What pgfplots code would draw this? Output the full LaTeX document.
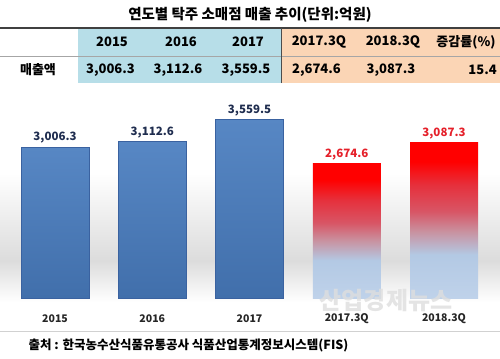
\documentclass[border=0pt]{standalone}
\usepackage{fontspec}
\setmainfont{Noto Sans CJK KR}
\usepackage{pgfplots}
\pgfplotsset{compat=1.18}
\definecolor{cyancell}{HTML}{B7DEE8}
\definecolor{orangecell}{HTML}{FBD5B5}
\definecolor{bartop}{HTML}{5787C4}
\definecolor{barbot}{HTML}{416FAB}
\definecolor{baredge}{HTML}{3A62A0}
\definecolor{navy}{HTML}{1F2D4F}
\definecolor{redlab}{HTML}{E5202A}
\definecolor{lb}{HTML}{B3C9E4}
\definecolor{lbb}{HTML}{BFD2EA}
\definecolor{mauve}{HTML}{C9919F}
\definecolor{midred}{HTML}{D85565}
\definecolor{red2}{HTML}{E6303C}
\definecolor{bgray}{HTML}{DCDCDC}
\pgfdeclareverticalshading{redblue}{100bp}{color(0bp)=(lbb); color(25bp)=(lbb); color(39bp)=(lb); color(46.5bp)=(mauve); color(53bp)=(midred); color(61.5bp)=(red2); color(69bp)=(red); color(100bp)=(red)}
\pgfdeclareverticalshading{bgshade}{100bp}{color(0bp)=(white); color(30bp)=(white); color(39bp)=(bgray); color(58bp)=(white); color(100bp)=(white)}
\begin{document}
\begin{tikzpicture}[x=1bp,y=1bp]
\path[use as bounding box,fill=white] (0,0) rectangle (500,358);
% title
\node[font=\bfseries\fontsize{14.5bp}{16bp}\selectfont] at (250,343) {연도별 탁주 소매점 매출 추이(단위:억원)};
% table
\fill[cyancell] (78,275) rectangle (281.5,330);
\fill[orangecell] (281.5,275) rectangle (500,330);
\draw[black!75,line width=1.2bp] (0,330) -- (500,330);
\draw[black!35,line width=0.6bp] (0,302) -- (500,302);
\draw[black!70,line width=1bp] (281.5,275) -- (281.5,330);
\begin{scope}[every node/.style={font=\bfseries\fontsize{13bp}{15bp}\selectfont,inner sep=0pt}]
\node at (112,316) {2015};
\node at (181,316) {2016};
\node at (248,316) {2017};
\node at (319,316) {2017.3Q};
\node at (393,316) {2018.3Q};
\node at (466,316) {증감률(\%)};
\node at (38,288) {매출액};
\node at (110.5,288) {3,006.3};
\node at (178,288) {3,112.6};
\node at (246,288) {3,559.5};
\node at (316.5,288) {2,674.6};
\node at (391,288) {3,087.3};
\node[anchor=east] at (497,288) {15.4};
\end{scope}
% chart background
\shade[shading=bgshade] (0,33) rectangle (500,263);
\begin{axis}[
  at={(0bp,60bp)}, anchor=south west,
  scale only axis, width=500bp, height=221bp,
  xmin=-0.566, xmax=4.576, ymin=0, ymax=4400,
  clip=false,
  axis line style={draw=none}, tick style={draw=none},
  ytick=\empty,
  xtick={0,1,2,3,4},
  xticklabels={2015,2016,2017,2017.3Q,2018.3Q},
  xticklabel style={font=\bfseries\fontsize{10.5bp}{12bp}\selectfont, text=black!85, anchor=center, yshift=-16bp},
  ybar, bar width=68bp, bar shift=0pt,
  nodes near coords,
  every node near coord/.append style={font=\bfseries\fontsize{11.5bp}{13bp}\selectfont},
  /pgf/number format/.cd, fixed, fixed zerofill, precision=1, 1000 sep={,}, assume math mode=true,
]
\pgfplotsset{blueb/.style={draw=baredge, line width=0.5bp, top color=bartop, bottom color=barbot,
  every node near coord/.append style={text=navy}},
  redb/.style={draw=none, shading=redblue, every node near coord/.append style={text=redlab}}}
\addplot[blueb] coordinates {(0,3006.3)};
\addplot[blueb] coordinates {(1,3112.6)};
\addplot[blueb] coordinates {(2,3559.5)};
\addplot[redb] coordinates {(3,2674.6)};
\addplot[redb] coordinates {(4,3087.3)};
\end{axis}
% watermark
\node[font=\bfseries\fontsize{24bp}{26bp}\selectfont, text=black!13, opacity=0.8] at (386,57) {산업경제뉴스};
% footer
\draw[black!18,line width=0.8bp] (0,27) -- (500,27);
\node[anchor=west,font=\bfseries\fontsize{12.5bp}{14bp}\selectfont] at (25,13) {출처 : 한국농수산식품유통공사 식품산업통계정보시스템(FIS)};
\end{tikzpicture}
\end{document}
